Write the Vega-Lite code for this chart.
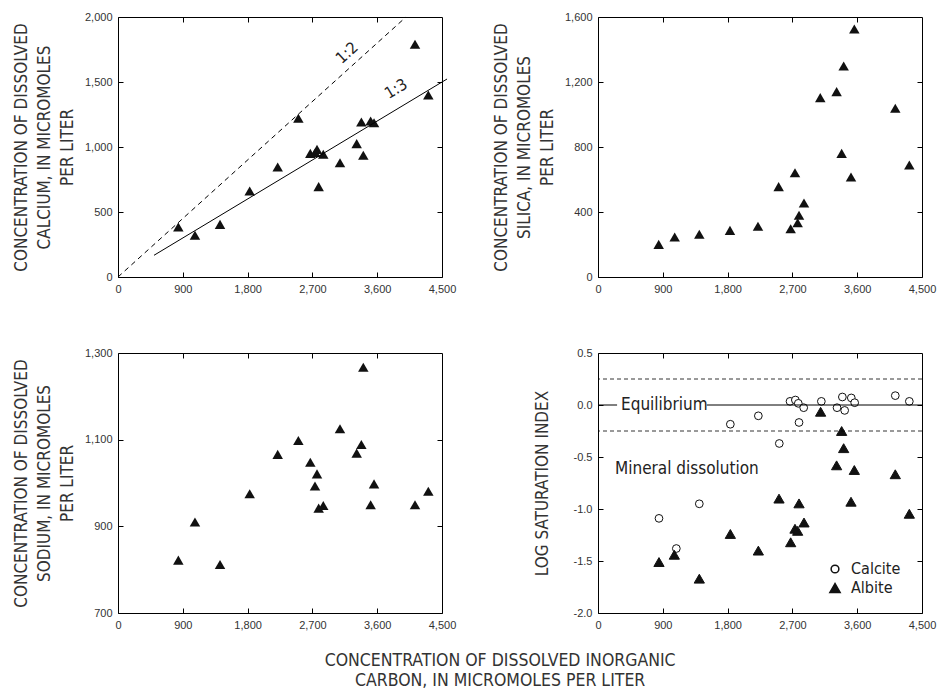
{
  "$schema": "https://vega.github.io/schema/vega-lite/v6.json",
  "padding": {"left": 11, "top": 10, "right": 10, "bottom": 5},
  "background": "white",
  "config": {
    "view": {"stroke": "#000", "strokeWidth": 1},
    "axis": {"grid": false, "domain": false, "tickColor": "#000", "tickSize": -5, "tickWidth": 1, "labelPadding": 11, "labelFlush": false, "labelOverlap": false, "labelFont": "Liberation Sans", "labelFontSize": 11, "labelColor": "#333", "titleFont": "'DejaVu Sans Condensed', 'Roboto Condensed', sans-serif", "titleFontSize": 17, "titleFontWeight": "normal", "titleColor": "#333", "titleLineHeight": 23}
  },
  "title": {"text": ["CONCENTRATION OF DISSOLVED INORGANIC", "CARBON, IN MICROMOLES PER LITER"], "orient": "bottom", "anchor": "middle", "font": "'DejaVu Sans Condensed', 'Roboto Condensed', sans-serif", "fontSize": 17.5, "fontWeight": "normal", "color": "#333", "lineHeight": 20, "offset": 21, "dx": 26},
  "datasets": {
    "ca": [
      {"dic": 838, "v": 385}, {"dic": 1069, "v": 321}, {"dic": 1417, "v": 405}, {"dic": 1829, "v": 662}, {"dic": 2218, "v": 846}, {"dic": 2505, "v": 1221}, {"dic": 2671, "v": 951}, {"dic": 2740, "v": 958}, {"dic": 2764, "v": 982}, {"dic": 2787, "v": 695}, {"dic": 2851, "v": 944}, {"dic": 3083, "v": 879}, {"dic": 3315, "v": 1026}, {"dic": 3380, "v": 1192}, {"dic": 3407, "v": 936}, {"dic": 3509, "v": 1200}, {"dic": 3556, "v": 1187}, {"dic": 4125, "v": 1790}, {"dic": 4310, "v": 1400}
    ],
    "si": [
      {"dic": 843, "v": 201}, {"dic": 1065, "v": 246}, {"dic": 1407, "v": 263}, {"dic": 1833, "v": 287}, {"dic": 2222, "v": 312}, {"dic": 2509, "v": 556}, {"dic": 2676, "v": 297}, {"dic": 2736, "v": 642}, {"dic": 2773, "v": 334}, {"dic": 2792, "v": 380}, {"dic": 2861, "v": 455}, {"dic": 3087, "v": 1104}, {"dic": 3314, "v": 1141}, {"dic": 3384, "v": 761}, {"dic": 3412, "v": 1298}, {"dic": 3514, "v": 615}, {"dic": 3560, "v": 1526}, {"dic": 4129, "v": 1038}, {"dic": 4324, "v": 689}
    ],
    "na": [
      {"dic": 838, "v": 822}, {"dic": 1069, "v": 910}, {"dic": 1417, "v": 812}, {"dic": 1829, "v": 975}, {"dic": 2218, "v": 1066}, {"dic": 2505, "v": 1098}, {"dic": 2671, "v": 1048}, {"dic": 2736, "v": 993}, {"dic": 2764, "v": 1021}, {"dic": 2787, "v": 942}, {"dic": 2851, "v": 948}, {"dic": 3083, "v": 1125}, {"dic": 3315, "v": 1069}, {"dic": 3380, "v": 1089}, {"dic": 3407, "v": 1267}, {"dic": 3509, "v": 950}, {"dic": 3556, "v": 998}, {"dic": 4125, "v": 950}, {"dic": 4310, "v": 981}
    ],
    "sat": [
      {"dic": 847, "v": -1.09, "mineral": "Calcite"}, {"dic": 1088, "v": -1.38, "mineral": "Calcite"}, {"dic": 1407, "v": -0.95, "mineral": "Calcite"}, {"dic": 1838, "v": -0.185, "mineral": "Calcite"}, {"dic": 2227, "v": -0.104, "mineral": "Calcite"}, {"dic": 2518, "v": -0.37, "mineral": "Calcite"}, {"dic": 2667, "v": 0.035, "mineral": "Calcite"}, {"dic": 2741, "v": 0.048, "mineral": "Calcite"}, {"dic": 2782, "v": 0.016, "mineral": "Calcite"}, {"dic": 2792, "v": -0.168, "mineral": "Calcite"}, {"dic": 2857, "v": -0.026, "mineral": "Calcite"}, {"dic": 3102, "v": 0.035, "mineral": "Calcite"}, {"dic": 3320, "v": -0.026, "mineral": "Calcite"}, {"dic": 3394, "v": 0.077, "mineral": "Calcite"}, {"dic": 3426, "v": -0.052, "mineral": "Calcite"}, {"dic": 3518, "v": 0.068, "mineral": "Calcite"}, {"dic": 3565, "v": 0.022, "mineral": "Calcite"}, {"dic": 4129, "v": 0.09, "mineral": "Calcite"}, {"dic": 4324, "v": 0.035, "mineral": "Calcite"},
      {"dic": 847, "v": -1.51, "mineral": "Albite"}, {"dic": 1060, "v": -1.44, "mineral": "Albite"}, {"dic": 1407, "v": -1.67, "mineral": "Albite"}, {"dic": 1838, "v": -1.24, "mineral": "Albite"}, {"dic": 2227, "v": -1.4, "mineral": "Albite"}, {"dic": 2514, "v": -0.9, "mineral": "Albite"}, {"dic": 2676, "v": -1.32, "mineral": "Albite"}, {"dic": 2736, "v": -1.19, "mineral": "Albite"}, {"dic": 2773, "v": -1.21, "mineral": "Albite"}, {"dic": 2792, "v": -0.946, "mineral": "Albite"}, {"dic": 2861, "v": -1.13, "mineral": "Albite"}, {"dic": 3092, "v": -0.065, "mineral": "Albite"}, {"dic": 3314, "v": -0.58, "mineral": "Albite"}, {"dic": 3384, "v": -0.25, "mineral": "Albite"}, {"dic": 3412, "v": -0.415, "mineral": "Albite"}, {"dic": 3514, "v": -0.93, "mineral": "Albite"}, {"dic": 3560, "v": -0.625, "mineral": "Albite"}, {"dic": 4129, "v": -0.666, "mineral": "Albite"}, {"dic": 4324, "v": -1.046, "mineral": "Albite"}
    ]
  },
  "columns": 2,
  "bounds": "flush",
  "spacing": {"row": 76, "column": 156},
  "concat": [
    {
      "width": 324, "height": 260,
      "resolve": {"axis": {"x": "independent", "y": "independent"}},
      "layer": [
        {
          "data": {"name": "ca"},
          "mark": {"type": "point", "shape": "triangle-up", "filled": true, "color": "#111", "size": 110, "opacity": 1},
          "encoding": {
            "x": {"field": "dic", "type": "quantitative", "scale": {"domain": [0, 4500], "nice": false}, "axis": {"orient": "bottom", "title": null, "values": [0, 900, 1800, 2700, 3600, 4500], "format": ",d"}},
            "y": {"field": "v", "type": "quantitative", "scale": {"domain": [0, 2000], "nice": false}, "axis": {"orient": "left", "title": ["CONCENTRATION OF DISSOLVED", "CALCIUM, IN MICROMOLES", "PER LITER"], "titlePadding": 8, "values": [0, 500, 1000, 1500, 2000], "format": ",d"}}
          }
        },
        {
          "data": {"values": [{"dic": 0, "v": 0}, {"dic": 4000, "v": 2000}]},
          "mark": {"type": "line", "color": "#000", "strokeWidth": 1, "strokeDash": [5, 4]},
          "encoding": {
            "x": {"field": "dic", "type": "quantitative", "scale": {"domain": [0, 4500], "nice": false}, "axis": null},
            "y": {"field": "v", "type": "quantitative", "scale": {"domain": [0, 2000], "nice": false}, "axis": null}
          }
        },
        {
          "data": {"values": [{"dic": 500, "v": 167}, {"dic": 4570, "v": 1523}]},
          "mark": {"type": "line", "color": "#000", "strokeWidth": 1},
          "encoding": {
            "x": {"field": "dic", "type": "quantitative", "scale": {"domain": [0, 4500], "nice": false}, "axis": null},
            "y": {"field": "v", "type": "quantitative", "scale": {"domain": [0, 2000], "nice": false}, "axis": null}
          }
        },
        {
          "data": {"values": [{"dic": 3181, "v": 1723, "label": "1:2"}]},
          "mark": {"type": "text", "angle": 318, "font": "'DejaVu Sans Condensed', 'Roboto Condensed', sans-serif", "fontSize": 16, "color": "#222"},
          "encoding": {
            "x": {"field": "dic", "type": "quantitative", "scale": {"domain": [0, 4500], "nice": false}, "axis": null},
            "y": {"field": "v", "type": "quantitative", "scale": {"domain": [0, 2000], "nice": false}, "axis": null},
            "text": {"field": "label"}
          }
        },
        {
          "data": {"values": [{"dic": 3861, "v": 1446, "label": "1:3"}]},
          "mark": {"type": "text", "angle": 329, "font": "'DejaVu Sans Condensed', 'Roboto Condensed', sans-serif", "fontSize": 16, "color": "#222"},
          "encoding": {
            "x": {"field": "dic", "type": "quantitative", "scale": {"domain": [0, 4500], "nice": false}, "axis": null},
            "y": {"field": "v", "type": "quantitative", "scale": {"domain": [0, 2000], "nice": false}, "axis": null},
            "text": {"field": "label"}
          }
        },
        {
          "data": {"name": "ca"},
          "mark": {"type": "point", "opacity": 0},
          "encoding": {
            "x": {"field": "dic", "type": "quantitative", "scale": {"domain": [0, 4500], "nice": false}, "axis": {"orient": "top", "labels": false, "title": null, "values": [900, 1800, 2700, 3600]}},
            "y": {"field": "v", "type": "quantitative", "scale": {"domain": [0, 2000], "nice": false}, "axis": {"orient": "right", "labels": false, "title": null, "values": [500, 1000, 1500]}}
          }
        }
      ]
    },
    {
      "width": 324, "height": 260,
      "resolve": {"axis": {"x": "independent", "y": "independent"}},
      "layer": [
        {
          "data": {"name": "si"},
          "mark": {"type": "point", "shape": "triangle-up", "filled": true, "color": "#111", "size": 110, "opacity": 1},
          "encoding": {
            "x": {"field": "dic", "type": "quantitative", "scale": {"domain": [0, 4500], "nice": false}, "axis": {"orient": "bottom", "title": null, "values": [0, 900, 1800, 2700, 3600, 4500], "format": ",d"}},
            "y": {"field": "v", "type": "quantitative", "scale": {"domain": [0, 1600], "nice": false}, "axis": {"orient": "left", "title": ["CONCENTRATION OF DISSOLVED", "SILICA, IN MICROMOLES", "PER LITER"], "titlePadding": 8, "values": [0, 400, 800, 1200, 1600], "format": ",d"}}
          }
        },
        {
          "data": {"name": "si"},
          "mark": {"type": "point", "opacity": 0},
          "encoding": {
            "x": {"field": "dic", "type": "quantitative", "scale": {"domain": [0, 4500], "nice": false}, "axis": {"orient": "top", "labels": false, "title": null, "values": [900, 1800, 2700, 3600]}},
            "y": {"field": "v", "type": "quantitative", "scale": {"domain": [0, 1600], "nice": false}, "axis": {"orient": "right", "labels": false, "title": null, "values": [400, 800, 1200]}}
          }
        }
      ]
    },
    {
      "width": 324, "height": 260,
      "resolve": {"axis": {"x": "independent", "y": "independent"}},
      "layer": [
        {
          "data": {"name": "na"},
          "mark": {"type": "point", "shape": "triangle-up", "filled": true, "color": "#111", "size": 110, "opacity": 1},
          "encoding": {
            "x": {"field": "dic", "type": "quantitative", "scale": {"domain": [0, 4500], "nice": false}, "axis": {"orient": "bottom", "title": null, "values": [0, 900, 1800, 2700, 3600, 4500], "format": ",d"}},
            "y": {"field": "v", "type": "quantitative", "scale": {"domain": [700, 1300], "nice": false, "zero": false}, "axis": {"orient": "left", "title": ["CONCENTRATION OF DISSOLVED", "SODIUM, IN MICROMOLES", "PER LITER"], "titlePadding": 8, "values": [700, 900, 1100, 1300], "format": ",d"}}
          }
        },
        {
          "data": {"name": "na"},
          "mark": {"type": "point", "opacity": 0},
          "encoding": {
            "x": {"field": "dic", "type": "quantitative", "scale": {"domain": [0, 4500], "nice": false}, "axis": {"orient": "top", "labels": false, "title": null, "values": [900, 1800, 2700, 3600]}},
            "y": {"field": "v", "type": "quantitative", "scale": {"domain": [700, 1300], "nice": false, "zero": false}, "axis": {"orient": "right", "labels": false, "title": null, "values": [900, 1100]}}
          }
        }
      ]
    },
    {
      "width": 324, "height": 260,
      "resolve": {"axis": {"x": "independent", "y": "independent"}},
      "layer": [
        {
          "data": {"name": "sat"},
          "mark": {"type": "point", "strokeWidth": 1, "opacity": 1},
          "encoding": {
            "x": {"field": "dic", "type": "quantitative", "scale": {"domain": [0, 4500], "nice": false}, "axis": {"orient": "bottom", "title": null, "values": [0, 900, 1800, 2700, 3600, 4500], "format": ",d"}},
            "y": {"field": "v", "type": "quantitative", "scale": {"domain": [-2, 0.5], "nice": false, "zero": false}, "axis": {"orient": "left", "title": "LOG SATURATION INDEX", "titlePadding": 22, "values": [-2, -1.5, -1, -0.5, 0, 0.5], "labelExpr": "replace(format(datum.value, '.1f'), '\u2212', '-')"}},
            "shape": {"field": "mineral", "type": "nominal", "scale": {"domain": ["Calcite", "Albite"], "range": ["circle", "triangle-up"]}, "legend": {"title": null, "orient": "none", "legendX": 709, "legendY": 544, "padding": 0, "labelFont": "'DejaVu Sans Condensed', 'Roboto Condensed', sans-serif", "labelFontSize": 16, "labelColor": "#222", "rowPadding": 3, "labelOffset": 8}},
            "fill": {"field": "mineral", "type": "nominal", "scale": {"domain": ["Calcite", "Albite"], "range": ["white", "#111"]}, "legend": {"title": null, "orient": "none", "legendX": 709, "legendY": 544, "padding": 0, "labelFont": "'DejaVu Sans Condensed', 'Roboto Condensed', sans-serif", "labelFontSize": 16, "labelColor": "#222", "rowPadding": 3, "labelOffset": 8}},
            "stroke": {"field": "mineral", "type": "nominal", "scale": {"domain": ["Calcite", "Albite"], "range": ["#111", "#111"]}, "legend": {"title": null, "orient": "none", "legendX": 709, "legendY": 544, "padding": 0, "labelFont": "'DejaVu Sans Condensed', 'Roboto Condensed', sans-serif", "labelFontSize": 16, "labelColor": "#222", "rowPadding": 3, "labelOffset": 8}},
            "size": {"field": "mineral", "type": "nominal", "scale": {"domain": ["Calcite", "Albite"], "range": [60, 105]}, "legend": {"title": null, "orient": "none", "legendX": 709, "legendY": 544, "padding": 0, "labelFont": "'DejaVu Sans Condensed', 'Roboto Condensed', sans-serif", "labelFontSize": 16, "labelColor": "#222", "rowPadding": 3, "labelOffset": 8}}
          }
        },
        {
          "data": {"values": [{"v": 0.25}, {"v": -0.25}]},
          "mark": {"type": "rule", "color": "#000", "strokeWidth": 0.8, "strokeDash": [4, 3]},
          "encoding": {
            "y": {"field": "v", "type": "quantitative", "scale": {"domain": [-2, 0.5], "nice": false, "zero": false}, "axis": null}
          }
        },
        {
          "data": {"values": [{"a": 0, "b": 265, "v": 0}, {"a": 1510, "b": 4500, "v": 0}]},
          "mark": {"type": "rule", "color": "#000", "strokeWidth": 1},
          "encoding": {
            "x": {"field": "a", "type": "quantitative", "scale": {"domain": [0, 4500], "nice": false}, "axis": null},
            "x2": {"field": "b"},
            "y": {"field": "v", "type": "quantitative", "scale": {"domain": [-2, 0.5], "nice": false, "zero": false}, "axis": null}
          }
        },
        {
          "data": {"values": [{"dic": 320, "v": 0, "label": "Equilibrium"}, {"dic": 236, "v": -0.62, "label": "Mineral dissolution"}]},
          "mark": {"type": "text", "align": "left", "baseline": "middle", "font": "'DejaVu Sans Condensed', 'Roboto Condensed', sans-serif", "fontSize": 17, "color": "#222"},
          "encoding": {
            "x": {"field": "dic", "type": "quantitative", "scale": {"domain": [0, 4500], "nice": false}, "axis": null},
            "y": {"field": "v", "type": "quantitative", "scale": {"domain": [-2, 0.5], "nice": false, "zero": false}, "axis": null},
            "text": {"field": "label"}
          }
        },
        {
          "data": {"name": "sat"},
          "mark": {"type": "point", "opacity": 0},
          "encoding": {
            "x": {"field": "dic", "type": "quantitative", "scale": {"domain": [0, 4500], "nice": false}, "axis": {"orient": "top", "labels": false, "title": null, "values": [900, 1800, 2700, 3600]}},
            "y": {"field": "v", "type": "quantitative", "scale": {"domain": [-2, 0.5], "nice": false, "zero": false}, "axis": {"orient": "right", "labels": false, "title": null, "values": [-1.5, -1, -0.5, 0]}}
          }
        }
      ]
    }
  ]
}
